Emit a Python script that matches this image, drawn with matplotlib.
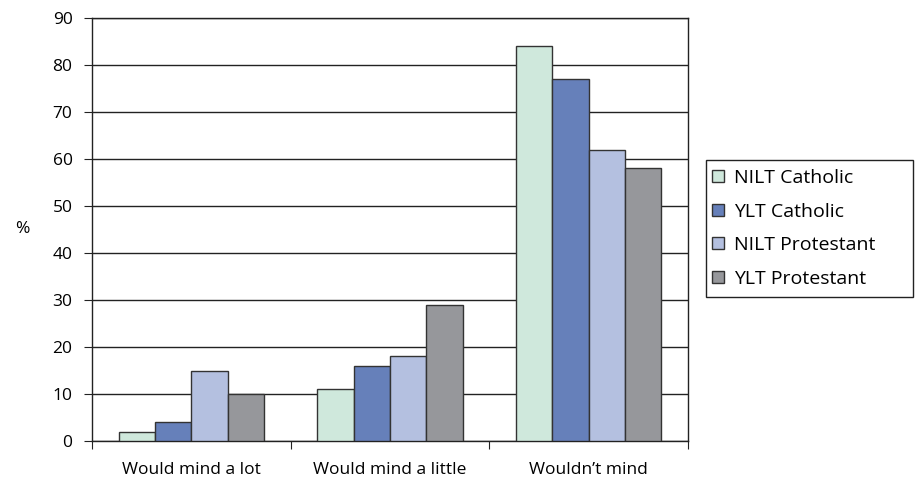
import numpy as np
import matplotlib.pyplot as plt
from matplotlib.patches import Rectangle

plt.rcParams['font.family'] = ['Open Sans', 'DejaVu Sans']

categories = ['Would mind a lot', 'Would mind a little', 'Wouldn\u2019t mind']
series = ['NILT Catholic', 'YLT Catholic', 'NILT Protestant', 'YLT Protestant']
nilt_catholic = [2, 11, 84]
ylt_catholic = [4, 16, 77]
nilt_protestant = [15, 18, 62]
ylt_protestant = [10, 29, 58]
colors = ['#cfe8dc', '#6680ba', '#b4c0e0', '#96979b']

values = [nilt_catholic, ylt_catholic, nilt_protestant, ylt_protestant]

W, H = 919, 483
fig = plt.figure(figsize=(W / 100, H / 100), dpi=100)
ax = fig.add_axes([92 / W, 1 - 441 / H, 596 / W, 423 / H])

x = np.arange(len(categories))
w = 0.183
for i, (name, vals) in enumerate(zip(series, values)):
    ax.bar(x + (i - 1.5) * w, vals, w, color=colors[i], edgecolor='#333333',
           linewidth=1.0, label=name, zorder=3)

ax.set_xlim(-0.5, 2.5)
ax.set_ylim(0, 90)
ax.set_yticks(range(0, 91, 10))
ax.yaxis.grid(True, color='#222222', linewidth=1.0, zorder=0)
ax.set_xticks([-0.5, 0.5, 1.5, 2.5])
ax.set_xticklabels([])
ax.set_xticks(x, minor=True)
ax.set_xticklabels(categories, minor=True, fontsize=12.5)
ax.tick_params(axis='x', which='minor', length=0, pad=15)
ax.tick_params(axis='x', which='major', length=6, direction='out', color='#222222')
ax.tick_params(axis='y', length=6, direction='out', labelsize=12.5, color='#222222', pad=8)

for s in ax.spines.values():
    s.set_color('#222222')
    s.set_linewidth(1.0)

ax.set_ylabel('%', fontsize=12.5, rotation=0, labelpad=22, va='center')

# legend box drawn separately so its right margin can be wider
fig.patches.append(Rectangle((706 / W, 1 - 297 / H), 207 / W, 137 / H,
                             transform=fig.transFigure, fill=False,
                             edgecolor='#222222', linewidth=1.0))
fig.legend(loc='upper left', bbox_to_anchor=(712 / W, 1 - 169 / H),
           frameon=False, fontsize=14,
           handlelength=0.6, handleheight=0.6, handletextpad=0.55,
           labelspacing=0.8, borderpad=0, borderaxespad=0)

plt.savefig('out.png', dpi=100)
